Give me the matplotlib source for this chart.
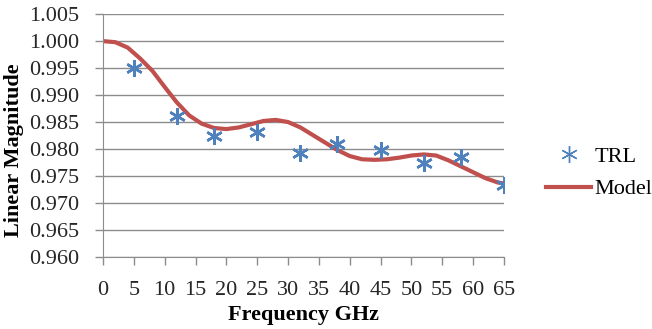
import matplotlib.pyplot as plt
from matplotlib.lines import Line2D

# === DATA ===
trl_freq = [5, 12, 18, 25, 32, 38, 45, 52, 58, 65]
trl_mag = [0.9950, 0.9861, 0.9825, 0.9831, 0.9793, 0.9809, 0.9798, 0.9774, 0.9785, 0.9733]

model_freq = [0, 2, 4, 6, 8, 10, 12, 14, 16, 18, 20, 22, 24, 26, 28, 30, 32,
              34, 36, 38, 40, 42, 44, 46, 48, 50, 52, 54, 56, 58, 60, 62, 64, 65]
model_mag = [1.0000, 0.9998, 0.9988, 0.9968, 0.9945, 0.9915, 0.9886, 0.9862,
             0.9847, 0.9839, 0.9837, 0.9840, 0.9846, 0.9852, 0.9854, 0.9850,
             0.9840, 0.9826, 0.9812, 0.9798, 0.9787, 0.9781, 0.9780, 0.9781,
             0.9784, 0.9788, 0.9790, 0.9788, 0.9779, 0.9768, 0.9757, 0.9746,
             0.9738, 0.9736]

x_ticks = list(range(0, 70, 5))
y_ticks = [0.960, 0.965, 0.970, 0.975, 0.980, 0.985, 0.990, 0.995, 1.000, 1.005]

# === STYLE ===
plt.rcParams['font.family'] = ['Liberation Serif', 'DejaVu Serif']
BLUE = '#4F81BD'
RED = '#C0504D'
GRID = '#8C8C8C'

fig = plt.figure(figsize=(6.52, 3.29), dpi=100)
ax = fig.add_axes([0.158, 0.219, 0.615, 0.738])

ax.plot(model_freq, model_mag, color=RED, lw=3, solid_capstyle='round',
        solid_joinstyle='round', zorder=2)
ax.plot(trl_freq, trl_mag, ls='none', marker=(6, 2, 0), ms=12, mew=1.8,
        color=BLUE, zorder=3)

ax.set_xlim(0, 65)
ax.set_ylim(0.960, 1.005)
ax.set_xticks(x_ticks)
ax.set_yticks(y_ticks)
ax.set_yticklabels([f'{v:.3f}' for v in y_ticks])
ax.tick_params(axis='both', labelsize=16, colors=GRID, labelcolor='#262626',
               length=6, width=1, pad=11)

ax.yaxis.grid(True, color=GRID, lw=1)
ax.set_axisbelow(True)
for s in ['top', 'right']:
    ax.spines[s].set_visible(False)
for s in ['left', 'bottom']:
    ax.spines[s].set_color(GRID)

ax.set_xlabel('Frequency GHz', fontsize=16, fontweight='bold', labelpad=4)
ax.set_ylabel('Linear Magnitude', fontsize=16, fontweight='bold')
ax.yaxis.set_label_coords(-0.197, 0.44)

# legend
handles = [
    Line2D([], [], ls='none', marker=(6, 2, 0), ms=12, mew=1.0, color=BLUE),
    Line2D([], [], color=RED, lw=3),
]
fig.legend(handles, ['TRL', 'Model'], loc='center left',
           bbox_to_anchor=(0.838, 0.475), frameon=False, fontsize=16,
           borderpad=0, borderaxespad=0, handlelength=2.0,
           handletextpad=0.15, labelspacing=0.55)

fig.savefig('out.png', dpi=100)
